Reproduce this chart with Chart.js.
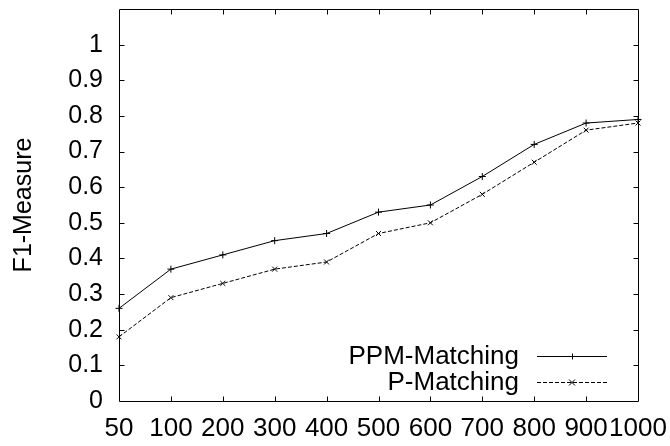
<!DOCTYPE html>
<html>
<head>
<meta charset="utf-8">
<script src="https://cdn.jsdelivr.net/npm/chart.js@4/dist/chart.umd.min.js"></script>
<style>
html,body{margin:0;padding:0;background:#fff;}
#wrap{width:670px;height:446px;position:relative;}
</style>
</head>
<body>
<div id="wrap"><canvas id="c" width="670" height="446"></canvas></div>
<script>
const categories = ['50','100','200','300','400','500','600','700','800','900','1000'];
const ppmMatching = [0.26,0.37,0.41,0.45,0.47,0.53,0.55,0.63,0.72,0.78,0.79];
const pMatching = [0.18,0.29,0.33,0.37,0.39,0.47,0.50,0.58,0.67,0.76,0.78];
const seriesNames = ['PPM-Matching','P-Matching'];
const yTickValues = [0,0.1,0.2,0.3,0.4,0.5,0.6,0.7,0.8,0.9,1];

const FONT = '"Liberation Sans", Arial, sans-serif';
const FS = 25;
const FSX = 26;

const framePlugin = {
  id: 'frame',
  afterDatasetsDraw(chart) {
    const ctx = chart.ctx, a = chart.chartArea;
    const xs = chart.scales.x, ys = chart.scales.y;
    ctx.save();
    ctx.strokeStyle = '#000';
    ctx.lineWidth = 1;
    ctx.setLineDash([]);
    ctx.beginPath();
    const L = Math.round(a.left)+0.5, R = Math.round(a.right)+0.5, T = Math.round(a.top)+0.5, B = Math.round(a.bottom)+0.5;
    ctx.rect(L, T, R-L, B-T);
    const tl = 5;
    for (let i = 1; i < categories.length-1; i++) {
      const x = Math.round(xs.getPixelForValue(i))+0.5;
      ctx.moveTo(x, B); ctx.lineTo(x, B-tl);
      ctx.moveTo(x, T); ctx.lineTo(x, T+tl);
    }
    yTickValues.forEach(v => {
      if (v === 0) return;
      const y = Math.round(ys.getPixelForValue(v))+0.5;
      ctx.moveTo(L, y); ctx.lineTo(L+tl, y);
      ctx.moveTo(R, y); ctx.lineTo(R-tl, y);
    });
    ctx.stroke();

    // legend
    ctx.font = FSX + 'px ' + FONT;
    ctx.fillStyle = '#000';
    ctx.textAlign = 'right';
    ctx.textBaseline = 'middle';
    const rows = [{y:357, dash:[], style:'cross'},{y:383, dash:[4,2], style:'crossRot'}];
    const textRight = 519, lx0 = 537, lx1 = 607, mx = 572;
    rows.forEach((r, i) => {
      ctx.fillText(seriesNames[i], textRight, r.y);
      ctx.beginPath();
      ctx.setLineDash(r.dash);
      ctx.moveTo(lx0, r.y-0.5); ctx.lineTo(lx1, r.y-0.5);
      ctx.stroke();
      ctx.setLineDash([]);
      ctx.beginPath();
      const s = 3;
      const cy = r.y-0.5;
      if (r.style === 'cross') {
        ctx.moveTo(mx-s, cy); ctx.lineTo(mx+s, cy);
        ctx.moveTo(mx+0.5, cy-s); ctx.lineTo(mx+0.5, cy+s);
      } else {
        ctx.moveTo(mx-s, cy-s); ctx.lineTo(mx+s, cy+s);
        ctx.moveTo(mx-s, cy+s); ctx.lineTo(mx+s, cy-s);
      }
      ctx.stroke();
    });
    ctx.restore();
  }
};

new Chart(document.getElementById('c'), {
  type: 'line',
  data: {
    labels: categories,
    datasets: [
      {label: seriesNames[0], data: ppmMatching, borderColor:'#000', backgroundColor:'#000', borderWidth:1,
       pointStyle:'cross', pointRadius:3.5, pointBorderWidth:1, tension:0, fill:false},
      {label: seriesNames[1], data: pMatching, borderColor:'#000', backgroundColor:'#000', borderWidth:1,
       borderDash:[4,2], pointStyle:'crossRot', pointRadius:3.5, pointBorderWidth:1, tension:0, fill:false}
    ]
  },
  options: {
    responsive:false,
    animation:false,
    layout:{padding:{top:9, right:32, left:0, bottom:0}},
    plugins:{legend:{display:false}, tooltip:{enabled:false}},
    scales:{
      x:{
        offset:false,
        grid:{display:false, drawTicks:false},
        border:{display:false},
        ticks:{autoSkip:false, maxRotation:0, minRotation:0, padding:12, color:'#000', font:{family:FONT, size:FSX}},
        afterFit(s){ s.height = 45; s.paddingLeft = 0; s.paddingRight = 0; }
      },
      y:{
        min:0, max:1.1,
        grid:{display:false, drawTicks:false},
        border:{display:false},
        afterBuildTicks(s){ s.ticks = yTickValues.map(v => ({value:v})); },
        ticks:{padding:16, color:'#000', font:{family:FONT, size:FS},
          callback:(v)=> String(parseFloat(Number(v).toFixed(1)))},
        title:{display:true, text:'F1-Measure', color:'#000', font:{family:FONT, size:FS}, padding:{top:9,bottom:0}},
        afterFit(s){ s.width = 119; s.paddingTop = 0; s.paddingBottom = 0; }
      }
    }
  },
  plugins:[framePlugin]
});
</script>
</body>
</html>
